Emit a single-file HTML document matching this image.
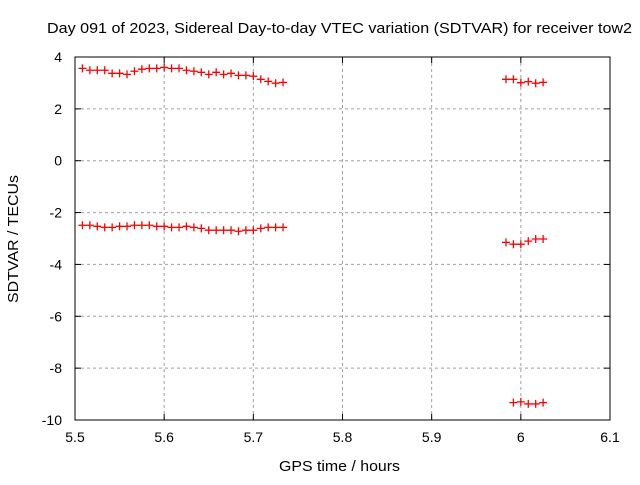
<!DOCTYPE html>
<html><head><meta charset="utf-8"><style>
body{margin:0;background:#fff}
svg{font-family:"Liberation Sans",Arial,sans-serif;font-size:14px}
</style></head><body>
<svg id="chart" width="640" height="480">
<rect width="640" height="480" fill="#fff"/>
<text x="339.5" y="33" font-size="15" text-anchor="middle" textLength="585" lengthAdjust="spacingAndGlyphs">Day 091 of 2023, Sidereal Day-to-day VTEC variation (SDTVAR) for receiver tow2</text>
<g id="grid"></g>
<g id="axes"></g>
<g id="marks"></g>
<rect x="75" y="57" width="535" height="363" fill="none" stroke="#000" stroke-width="1"/>
<text x="339.5" y="471" font-size="15" text-anchor="middle" textLength="121" lengthAdjust="spacingAndGlyphs">GPS time / hours</text>
<text transform="translate(18,239) rotate(-90)" font-size="15" text-anchor="middle" textLength="128" lengthAdjust="spacingAndGlyphs">SDTVAR / TECUs</text>
</svg>
<script>
const xTicks=[5.5,5.6,5.7,5.8,5.9,6,6.1];
const xTickLabels=["5.5","5.6","5.7","5.8","5.9","6","6.1"];
const yTicks=[4,2,0,-2,-4,-6,-8,-10];
const yTickLabels=["4","2","0","-2","-4","-6","-8","-10"];
const upperSteps=[1,2,3,4,5,6,7,8,9,10,11,12,13,14,15,16,17,18,19,20,21,22,23,24,25,26,27,28,58,59,60,61,62,63];
const upperValues=[3.56,3.49,3.49,3.49,3.37,3.37,3.33,3.45,3.53,3.56,3.56,3.60,3.56,3.56,3.49,3.45,3.41,3.33,3.41,3.33,3.37,3.29,3.29,3.26,3.14,3.06,2.99,3.02,3.14,3.14,3.01,3.05,2.99,3.02];
const lowerSteps=[1,2,3,4,5,6,7,8,9,10,11,12,13,14,15,16,17,18,19,20,21,22,23,24,25,26,27,28,58,59,60,61,62,63];
const lowerValues=[-2.49,-2.49,-2.53,-2.57,-2.57,-2.53,-2.53,-2.49,-2.49,-2.49,-2.53,-2.53,-2.57,-2.57,-2.53,-2.57,-2.61,-2.68,-2.68,-2.68,-2.68,-2.72,-2.68,-2.68,-2.61,-2.57,-2.57,-2.57,-3.15,-3.22,-3.22,-3.10,-3.02,-3.02];
const outlierSteps=[59,60,61,62,63];
const outlierValues=[-9.33,-9.30,-9.38,-9.38,-9.33];

const NS="http://www.w3.org/2000/svg";
const L=75,R=610,T=57,B=420;
const X=v=>L+(v-5.5)/0.6*(R-L);
const Y=v=>T+(4-v)/14*(B-T);
const stepTime=k=>5.5+k/120;
function mk(tag,attrs,parent){const e=document.createElementNS(NS,tag);for(const k in attrs)e.setAttribute(k,attrs[k]);parent.appendChild(e);return e;}
const grid=document.getElementById('grid'),axes=document.getElementById('axes'),marks=document.getElementById('marks');
xTicks.forEach((t,i)=>{
  const x=X(t);
  if(i>0&&i<xTicks.length-1){const g=mk('line',{x1:x,x2:x,y1:T,y2:B,stroke:'#a0a0a0','stroke-dasharray':'3,3'},grid);
  
  }
  mk('line',{x1:x,x2:x,y1:B,y2:B-6,stroke:'#000'},axes);
  mk('line',{x1:x,x2:x,y1:T,y2:T+6,stroke:'#000'},axes);
  const tx=mk('text',{x:x,y:B+22,'text-anchor':'middle'},axes);tx.textContent=xTickLabels[i];
  
  
});
yTicks.forEach((t,i)=>{
  const y=Y(t);
  if(i>0&&i<yTicks.length-1){const g=mk('line',{x1:L,x2:R,y1:y,y2:y,stroke:'#a0a0a0','stroke-dasharray':'3,3'},grid);
  
  }
  mk('line',{x1:L,x2:L+6,y1:y,y2:y,stroke:'#000'},axes);
  mk('line',{x1:R,x2:R-6,y1:y,y2:y,stroke:'#000'},axes);
  const tx=mk('text',{x:L-13,y:y+5,'text-anchor':'end'},axes);tx.textContent=yTickLabels[i];
  
  
});
function plot(steps,vals,name){
  steps.forEach((k,i)=>{
    const x=X(stepTime(k)),y=Y(vals[i]);
    const p=mk('path',{d:`M${x-4},${y}H${x+4}M${x},${y-4}V${y+4}`,stroke:'#ff0000','stroke-width':1.3,fill:'none'},marks);
    
    
  });
}
plot(upperSteps,upperValues,'upper-point');
plot(lowerSteps,lowerValues,'lower-point');
plot(outlierSteps,outlierValues,'outlier-point');
</script>
</body></html>
